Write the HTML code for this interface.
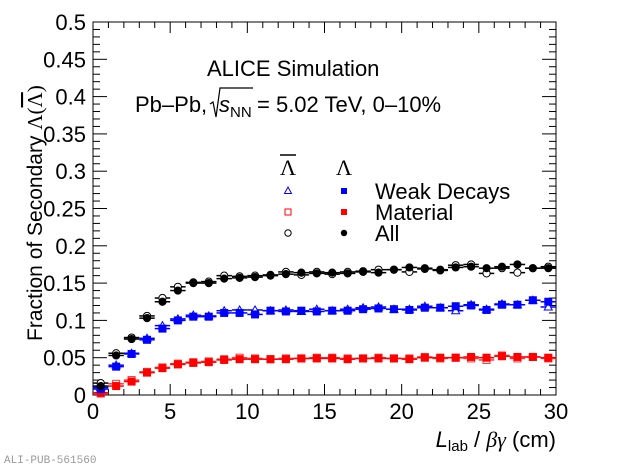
<!DOCTYPE html>
<html><head><meta charset="utf-8"><style>
html,body{margin:0;padding:0;background:#fff;overflow:hidden;}
svg{display:block;font-family:"Liberation Sans",Arial,sans-serif;}
</style></head><body>
<svg id="s" width="620" height="467" viewBox="0 0 620 467" xmlns="http://www.w3.org/2000/svg">
<rect x="93" y="22" width="463" height="373" fill="none" stroke="#000" stroke-width="1"/>
<g id="ticks" stroke="#000" stroke-width="1"></g>
<g id="data"></g>
<g font-size="22" fill="#000" text-anchor="end" id="ylab"></g>
<g font-size="22" fill="#000" text-anchor="middle" id="xlab"></g>
<text x="556" y="447" font-size="22" text-anchor="end"><tspan font-style="italic">L</tspan><tspan font-size="15" dy="4">lab</tspan><tspan dy="-4"> / </tspan><tspan font-family="'Liberation Serif',serif" font-style="italic">βγ</tspan><tspan> (cm)</tspan></text>
<text transform="translate(42,341) rotate(-90)" font-size="21" text-anchor="start">Fraction of Secondary <tspan font-family="'Liberation Serif',serif">Λ(<tspan text-decoration="overline">Λ</tspan>)</tspan></text>
<text x="207" y="76" font-size="22">ALICE Simulation</text>
<text x="135" y="112" font-size="22">Pb–Pb,</text>
<text x="219" y="112" font-size="22" font-style="italic">s</text>
<text x="230" y="117" font-size="15">NN</text>
<text x="257" y="112" font-size="22">= 5.02 TeV, 0–10%</text>
<path d="M210 104 L213 102 L216 117 L220 88 L253 88" fill="none" stroke="#000" stroke-width="1.2"/>
<text x="288" y="175" font-size="22" text-anchor="middle" font-family="'Liberation Serif',serif">Λ</text>
<line x1="280" y1="155" x2="296" y2="155" stroke="#000" stroke-width="1.5"/>
<text x="344" y="175" font-size="22" text-anchor="middle" font-family="'Liberation Serif',serif">Λ</text>
<polygon points="288,187 291.5,193.5 284.5,193.5" fill="none" stroke="#00f" stroke-width="1"/>
<rect x="341" y="188" width="6" height="6" fill="#00f"/>
<rect x="285" y="209" width="6" height="6" fill="none" stroke="#f00" stroke-width="1"/>
<rect x="341" y="209" width="6" height="6" fill="#f00"/>
<circle cx="288" cy="233" r="3.2" fill="none" stroke="#000"/>
<circle cx="344" cy="233" r="3.2" fill="#000"/>
<text x="375" y="199" font-size="22">Weak Decays</text>
<text x="375" y="220" font-size="22">Material</text>
<text x="375" y="241" font-size="22">All</text>
<text x="4" y="463" font-size="11" fill="#999" font-family="'Liberation Mono',monospace">ALI-PUB-561560</text>
</svg>
<script>
var NS="http://www.w3.org/2000/svg";
function X(v){return 93+v*463/30;}function Y(v){return 395-v*746;}
function el(p,t,a){var e=document.createElementNS(NS,t);for(var k in a)e.setAttribute(k,a[k]);document.getElementById(p).appendChild(e);return e;}
for(var i=0;i<=50;i++){var y=Y(i*0.01),L=(i%5==0)?14:7;el("ticks","line",{x1:93,y1:y,x2:93+L,y2:y});el("ticks","line",{x1:556,y1:y,x2:556-L,y2:y});
 if(i%5==0){var t=el("ylab","text",{x:86,y:y+8});t.textContent=(i==0?"0":(i/100).toString());}}
for(var i=0;i<=30;i++){var x=X(i),L=(i%5==0)?11:6;el("ticks","line",{x1:x,y1:395,x2:x,y2:395-L});el("ticks","line",{x1:x,y1:22,x2:x,y2:22+L});
 if(i%5==0){var t=el("xlab","text",{x:x,y:419});t.textContent=i;}}
var allF=[.012,.053,.075,.103,.125,.140,.150,.150,.156,.157,.158,.160,.162,.164,.163,.164,.163,.165,.164,.168,.171,.170,.168,.171,.172,.170,.172,.175,.170,.170];
var allO=[.016,.056,.077,.106,.130,.145,.151,.152,.160,.159,.160,.161,.165,.161,.165,.162,.165,.166,.168,.168,.165,.169,.167,.174,.175,.163,.170,.164,.170,.172];
var wF=[.008,.038,.055,.074,.089,.100,.105,.105,.110,.110,.108,.113,.112,.113,.112,.113,.113,.115,.116,.115,.114,.117,.117,.119,.120,.114,.121,.121,.127,.125];
var wO=[.010,.040,.056,.076,.093,.102,.107,.106,.113,.114,.114,.113,.114,.112,.115,.113,.115,.117,.118,.115,.115,.119,.117,.113,.121,.115,.122,.121,.127,.118];
var mF=[.003,.012,.018,.030,.036,.041,.043,.044,.047,.048,.048,.048,.048,.049,.049,.049,.048,.049,.049,.049,.048,.050,.050,.050,.051,.050,.052,.051,.051,.050];
var mO=[.002,.015,.020,.031,.037,.042,.044,.045,.048,.050,.049,.048,.049,.049,.050,.050,.049,.049,.050,.049,.049,.051,.049,.050,.049,.047,.053,.049,.051,.049];
function series(a,col,shape,fill){for(var i=0;i<30;i++){var cx=X(i+.5),cy=Y(a[i]);
 el("data","line",{x1:X(i),y1:cy,x2:X(i+1),y2:cy,stroke:col,"stroke-width":1.5});
 var f=fill?col:"#fff";
 if(shape=="c")el("data","circle",{cx:cx,cy:cy,r:3.6,fill:f,stroke:col,"stroke-width":1});
 else if(shape=="s")el("data","rect",{x:cx-3.5,y:cy-3.5,width:7,height:7,fill:f,stroke:col,"stroke-width":1});
 else el("data","polygon",{points:(cx)+","+(cy-4)+" "+(cx+4)+","+(cy+3)+" "+(cx-4)+","+(cy+3),fill:f,stroke:col,"stroke-width":1});}}
series(mO,"#f33","s",false);series(mF,"#f00","s",true);
series(wO,"#00f","t",false);series(wF,"#00f","s",true);
series(allO,"#000","c",false);series(allF,"#000","c",true);
</script>
</body></html>
